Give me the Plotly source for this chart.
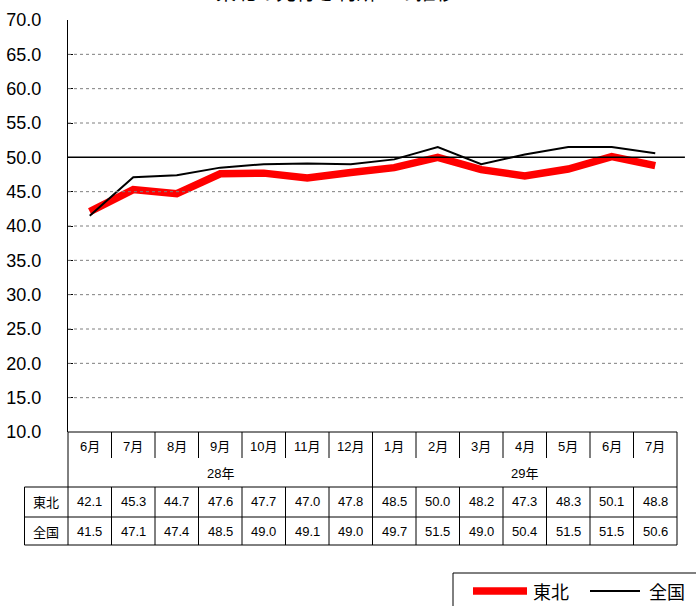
import plotly.graph_objects as go

# ---- data ----
months = ["6月", "7月", "8月", "9月", "10月", "11月", "12月",
          "1月", "2月", "3月", "4月", "5月", "6月", "7月"]
year_labels = ["28年", "29年"]
year_counts = [7, 7]
tohoku = [42.1, 45.3, 44.7, 47.6, 47.7, 47.0, 47.8, 48.5, 50.0, 48.2, 47.3, 48.3, 50.1, 48.8]
zenkoku = [41.5, 47.1, 47.4, 48.5, 49.0, 49.1, 49.0, 49.7, 51.5, 49.0, 50.4, 51.5, 51.5, 50.6]
series_names = ["東北", "全国"]
series_colors = ["#FF0000", "#000000"]
series_widths = [7.5, 2]
y_ticks = [10, 15, 20, 25, 30, 35, 40, 45, 50, 55, 60, 65, 70]
title_text = "東北の先行き判断DIの推移"

W, H = 696, 606
ML, MR, MT, MB = 68, 19, 20, 174
PW = W - ML - MR
PH = H - MT - MB
N = len(months)
xs = list(range(N))

FONT = "Liberation Sans, Arial, Noto Sans CJK JP, sans-serif"
CJK = "Noto Sans CJK JP, sans-serif"

def py(pix):
    """pixel y (from top) -> paper y"""
    return (H - MB - pix) / PH

def px(pix):
    """pixel x (from left) -> paper x"""
    return (pix - ML) / PW

fig = go.Figure()
for vals, name, col, wd in zip([tohoku, zenkoku], series_names, series_colors, series_widths):
    fig.add_trace(go.Scatter(x=xs, y=vals, mode="lines", name=name,
                             line=dict(color=col, width=wd), showlegend=False))

shapes = []
# grid lines
for v in y_ticks[1:-1]:
    if v == 50:
        shapes.append(dict(type="line", xref="paper", yref="y", x0=0, x1=1.013, y0=v, y1=v,
                           line=dict(color="black", width=1.5)))
    else:
        shapes.append(dict(type="line", xref="paper", yref="y", x0=0, x1=1.013, y0=v, y1=v,
                           line=dict(color="#7f7f7f", width=1, dash="dot")))

# table geometry (pixels)
r_top, r_month, r_year, r_t, r_z = 432, 460, 487, 517, 545
lc = "black"
def hline(x0, x1, yp):
    shapes.append(dict(type="line", xref="paper", yref="paper", x0=x0, x1=x1,
                       y0=py(yp), y1=py(yp), line=dict(color=lc, width=1)))
def vline(x, y0p, y1p):
    shapes.append(dict(type="line", xref="paper", yref="paper", x0=x, x1=x,
                       y0=py(y0p), y1=py(y1p), line=dict(color=lc, width=1)))

hline(0, 1, r_top)
hline(-1 / N, 1, r_year)
hline(-1 / N, 1, r_t)
hline(-1 / N, 1, r_z)
vline(0, r_top, r_z)
vline(1, r_top, r_z)
vline(-1 / N, r_year, r_z)
for i in range(1, N):
    vline(i / N, r_top, r_month - 2)
    vline(i / N, r_year, r_z)
acc = 0
for c in year_counts[:-1]:
    acc += c
    vline(acc / N, r_top, r_year)

annotations = []
def txt(x, yp, s, size=13, font=FONT, xanchor="center"):
    annotations.append(dict(x=x, y=py(yp), xref="paper", yref="paper", text=s,
                            showarrow=False, xanchor=xanchor, yanchor="middle",
                            font=dict(size=size, color="black", family=font)))

for i, m in enumerate(months):
    txt((i + 0.5) / N, (r_top + r_month) / 2, m, 13)
acc = 0
for lab, c in zip(year_labels, year_counts):
    txt((acc + c / 2) / N, (r_month + r_year) / 2, lab, 13)
    acc += c
txt(-0.5 / N, (r_year + r_t) / 2, series_names[0], 13, CJK)
txt(-0.5 / N, (r_t + r_z) / 2, series_names[1], 13, CJK)
for i in range(N):
    txt((i + 0.5) / N, (r_year + r_t) / 2, f"{tohoku[i]:.1f}", 13)
    txt((i + 0.5) / N, (r_t + r_z) / 2, f"{zenkoku[i]:.1f}", 13)

# legend (drawn manually, box runs off the right/bottom edge like the reference)
shapes.append(dict(type="rect", xref="paper", yref="paper", x0=px(453), x1=px(702),
                   y0=py(573), y1=py(612), line=dict(color="black", width=1), fillcolor="white"))
leg_y = 591
leg_x = [(473, 527, 531), (590, 640, 647)]
for (x0, x1, tx), name, col, wd in zip(leg_x, series_names, series_colors, series_widths):
    shapes.append(dict(type="line", xref="paper", yref="paper", x0=px(x0), x1=px(x1),
                       y0=py(leg_y), y1=py(leg_y), line=dict(color=col, width=wd)))
    txt(px(tx), leg_y, name, 18, CJK, xanchor="left")

# title (partially cut at top, as in reference)
annotations.append(dict(x=px(336), y=py(8), xref="paper", yref="paper",
                        text=title_text, showarrow=False, xanchor="center", yanchor="bottom",
                        font=dict(size=20, color="black", family=CJK)))

fig.update_layout(
    width=W, height=H,
    margin=dict(l=ML, r=MR, t=MT, b=MB, pad=0, autoexpand=False),
    paper_bgcolor="white", plot_bgcolor="white",
    shapes=shapes, annotations=annotations,
    showlegend=False,
    xaxis=dict(range=[-0.5, N - 0.5], visible=False, fixedrange=True),
    yaxis=dict(range=[10, 70], tickvals=y_ticks, ticktext=[f"{v:.1f}" for v in y_ticks],
               showgrid=False, zeroline=False, showline=True, linecolor="black", linewidth=1,
               ticks="inside", ticklen=5, tickcolor="black",
               ticklabelstandoff=22,
               tickfont=dict(size=18, family=FONT, color="black")),
)

fig.write_html("out.html")
